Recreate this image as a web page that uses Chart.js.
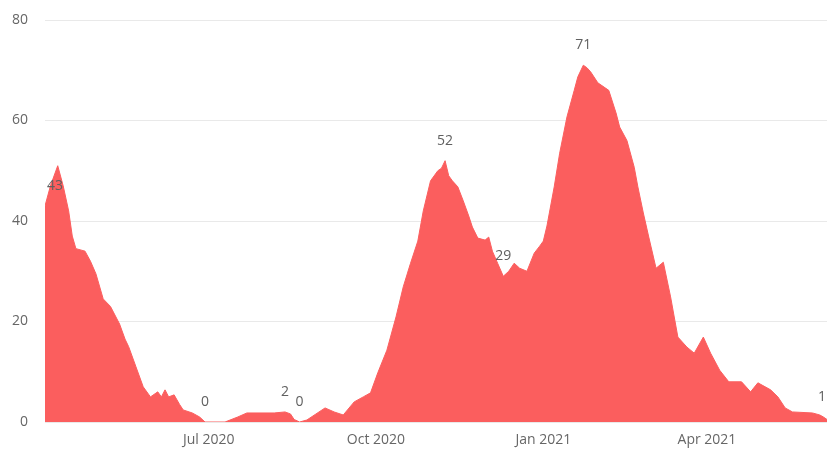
<!DOCTYPE html>
<html lang="en">
<head>
  <meta charset="UTF-8">
  <title>Daily count</title>
  <script src="https://cdn.jsdelivr.net/npm/chart.js"></script>
  <style>
    body { margin: 0; background: #fff; }
    canvas { display: block; }
  </style>
</head>
<body>
<canvas id="chart" width="827" height="449"></canvas>
<script>
const dates = [
  '2020-04-02','2020-04-05','2020-04-09','2020-04-12','2020-04-15','2020-04-17','2020-04-19','2020-04-24','2020-04-27','2020-04-30',
  '2020-05-04','2020-05-08','2020-05-13','2020-05-16','2020-05-18','2020-05-22','2020-05-26','2020-05-30',
  '2020-06-03','2020-06-05','2020-06-07','2020-06-09','2020-06-12','2020-06-15','2020-06-17','2020-06-22','2020-06-26','2020-06-29',
  '2020-07-10','2020-07-17','2020-07-22','2020-08-06','2020-08-12','2020-08-15','2020-08-17','2020-08-20','2020-08-24','2020-08-29',
  '2020-09-03','2020-09-08','2020-09-13','2020-09-19','2020-09-24','2020-09-28',
  '2020-10-02','2020-10-07','2020-10-12','2020-10-16','2020-10-20','2020-10-24','2020-10-27','2020-10-31',
  '2020-11-04','2020-11-06','2020-11-08','2020-11-10','2020-11-12','2020-11-15','2020-11-18','2020-11-21','2020-11-23','2020-11-26','2020-11-30',
  '2020-12-02','2020-12-04','2020-12-07','2020-12-10','2020-12-13','2020-12-16','2020-12-19','2020-12-23','2020-12-27','2020-12-30',
  '2021-01-01','2021-01-03','2021-01-07','2021-01-10','2021-01-14','2021-01-18','2021-01-20','2021-01-23','2021-01-25','2021-01-27','2021-01-31',
  '2021-02-04','2021-02-06','2021-02-10','2021-02-12','2021-02-16','2021-02-20','2021-02-22','2021-02-25','2021-02-28',
  '2021-03-04','2021-03-08','2021-03-12','2021-03-16','2021-03-21','2021-03-25','2021-03-30',
  '2021-04-03','2021-04-08','2021-04-13','2021-04-20','2021-04-25','2021-04-29',
  '2021-05-06','2021-05-10','2021-05-14','2021-05-18','2021-05-29','2021-06-02','2021-06-04','2021-06-06'
];
const values = [
  43,47,51,47,42,37,34.5,34,32,29.5,
  24.5,23,19.5,16.5,15,11,7,5,
  6,5,6.4,5,5.4,3.5,2.4,1.8,1,0,
  0,1,1.8,1.8,2,1.6,0.5,0,0.4,1.6,
  2.8,2,1.4,4,5,5.8,
  9.8,14.3,20.9,26.9,31.6,36,42,48,
  50,50.5,52,49,48,46.8,44,41,38.8,36.6,36.2,
  36.8,34,31.5,29,30,31.6,30.6,30,33.6,35,
  36,39,46.8,53.5,60.7,66,68.7,71,70.5,69.7,67.5,
  66.5,66,61.5,58.7,56,50.7,46.8,41.6,36.8,
  30.6,31.8,24.9,16.9,14.9,13.7,16.9,
  13.7,10.3,8,8,6,7.8,
  6.4,5,2.8,2,1.8,1.4,1,0.5
];
// points that carry a data label
const labelledDates = ['2020-04-02','2020-06-29','2020-08-12','2020-08-20','2020-11-08','2020-12-10','2021-01-23','2021-06-04'];
const tickDates = ['2020-07-01','2020-10-01','2021-01-01','2021-04-01'];
const tickLabels = ['Jul 2020','Oct 2020','Jan 2021','Apr 2021'];
const yTicks = [0, 20, 40, 60, 80];

const base = Date.parse('2020-04-01');
function dayOf(s) { return Math.round((Date.parse(s) - base) / 86400000); }

const points = dates.map((d, i) => ({ x: dayOf(d), y: values[i] }));
const tickDays = tickDates.map(dayOf);
const labelDays = labelledDates.map(dayOf);

const FONT = '"Open Sans", "Noto Sans", sans-serif';

const pointLabels = {
  id: 'pointLabels',
  afterDatasetsDraw(chart) {
    const ctx = chart.ctx;
    const meta = chart.getDatasetMeta(0);
    const area = chart.chartArea;
    ctx.save();
    ctx.font = '14px ' + FONT;
    ctx.fillStyle = '#606060';
    ctx.textAlign = 'center';
    ctx.textBaseline = 'middle';
    meta.data.forEach((el, i) => {
      if (!labelDays.includes(points[i].x)) return;
      const txt = String(Math.round(points[i].y));
      const w = ctx.measureText(txt).width;
      let x = Math.min(Math.max(el.x, area.left + w / 2 + 2), area.right - w / 2 - 1);
      ctx.fillText(txt, x, el.y - 20);
    });
    ctx.restore();
  }
};

new Chart(document.getElementById('chart').getContext('2d'), {
  type: 'line',
  data: {
    datasets: [{
      data: points,
      fill: 'origin',
      backgroundColor: '#fb5e5e',
      borderColor: '#fb5e5e',
      borderWidth: 1,
      pointRadius: 0,
      tension: 0
    }]
  },
  options: {
    responsive: false,
    animation: false,
    layout: { padding: { top: 20, right: 0, left: 0, bottom: 0 } },
    plugins: { legend: { display: false }, tooltip: { enabled: false } },
    scales: {
      x: {
        type: 'linear',
        min: dayOf(dates[0]),
        max: dayOf(dates[dates.length - 1]),
        grid: { display: false },
        border: { display: false },
        afterBuildTicks(scale) { scale.ticks = tickDays.map(v => ({ value: v })); },
        afterFit(scale) { scale.height = 27; },
        ticks: {
          autoSkip: false,
          maxRotation: 0,
          padding: 2,
          color: '#666',
          font: { family: FONT, size: 14 },
          callback: (v) => tickLabels[tickDays.indexOf(v)]
        }
      },
      y: {
        min: 0,
        max: 80,
        afterBuildTicks(scale) { scale.ticks = yTicks.map(v => ({ value: v })); },
        afterFit(scale) {
          scale.width = 45;
          scale.paddingTop = 0;
          scale.paddingBottom = 0;
        },
        grid: { color: '#e9e9e9', drawTicks: false },
        border: { display: false },
        ticks: {
          padding: 17,
          color: '#666',
          font: { family: FONT, size: 14 }
        }
      }
    }
  },
  plugins: [pointLabels]
});
</script>
</body>
</html>
